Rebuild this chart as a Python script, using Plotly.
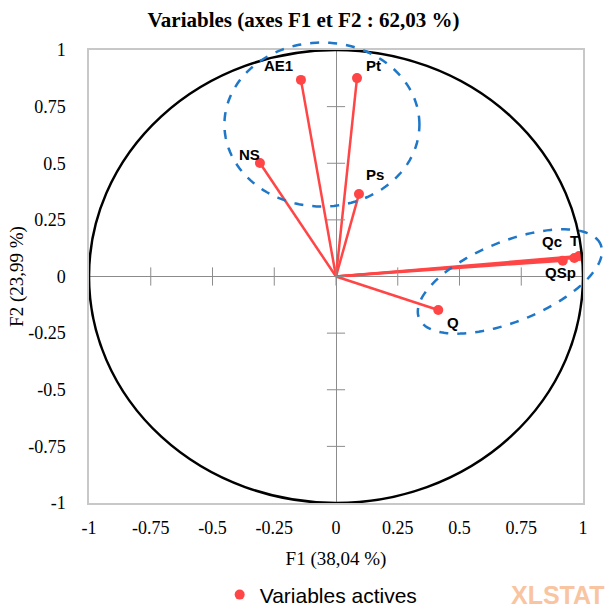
import numpy as np
import plotly.graph_objects as go

# ---- data ----
variables = ["AE1", "Pt", "NS", "Ps", "Qc", "T", "QSp", "Q"]
f1 = [-0.142, 0.085, -0.308, 0.093, 0.965, 0.984, 0.918, 0.414]
f2 = [0.868, 0.876, 0.501, 0.364, 0.082, 0.090, 0.070, -0.148]
tick_vals = [-1, -0.75, -0.5, -0.25, 0, 0.25, 0.5, 0.75, 1]
tick_text = ["-1", "-0.75", "-0.5", "-0.25", "0", "0.25", "0.5", "0.75", "1"]

# ---- styling ----
RED = "#FF4545"
BLUE = "#1F77C8"
GRAY = "#8C8C8C"
label_offsets = {  # (xshift, yshift) in px
    "AE1": (-22, 14), "Pt": (16, 13), "NS": (-10, 9), "Ps": (16, 20),
    "Qc": (-22, 16), "T": (-5, 16), "QSp": (-2, -12), "Q": (15, -12),
}

fig = go.Figure()

# vectors from origin
lx, ly = [], []
for x, y in zip(f1, f2):
    lx += [0, x, None]
    ly += [0, y, None]
fig.add_trace(go.Scatter(x=lx, y=ly, mode="lines", line=dict(color=RED, width=2.5),
                         showlegend=False, hoverinfo="skip"))

# tick marks on the zero axes
fig.add_trace(go.Scatter(x=[0] * len(tick_vals), y=tick_vals, mode="markers",
                         marker=dict(symbol="line-ew", size=13, line=dict(color=GRAY, width=1)),
                         showlegend=False, hoverinfo="skip", cliponaxis=False))
fig.add_trace(go.Scatter(x=tick_vals, y=[0] * len(tick_vals), mode="markers",
                         marker=dict(symbol="line-ns", size=13, line=dict(color=GRAY, width=1)),
                         showlegend=False, hoverinfo="skip", cliponaxis=False))

fig.add_trace(go.Scatter(x=f1, y=f2, mode="markers", name="Variables actives",
                         marker=dict(color=RED, size=10), text=variables, cliponaxis=False))

# unit circle
fig.add_shape(type="circle", xref="x", yref="y", x0=-1, y0=-1, x1=1, y1=1,
              line=dict(color="black", width=2.5), layer="above")


def to_paper(x, y):
    # axes span [-1, 1] on both x and y
    return (np.asarray(x) + 1) / 2, (np.asarray(y) + 1) / 2


def ellipse_path(cx, cy, a_px, b_px, theta_deg):
    px_per_x, px_per_y = 247.0, 226.5
    th = np.deg2rad(theta_deg)
    t = np.linspace(0, 2 * np.pi, 140)
    ex = cx + (a_px * np.cos(t) * np.cos(th) - b_px * np.sin(t) * np.sin(th)) / px_per_x
    ey = cy + (a_px * np.cos(t) * np.sin(th) + b_px * np.sin(t) * np.cos(th)) / px_per_y
    ux, uy = to_paper(ex, ey)
    return "M " + " L ".join(f"{a:.5f},{b:.5f}" for a, b in zip(ux, uy)) + " Z"


# ellipse 1 (group AE1, Pt, NS, Ps) and ellipse 2 (group Qc, T, QSp, Q)
for params in [(-0.057, 0.671, 97.5, 82.0, 0.0), (0.704, -0.022, 98.0, 40.0, 22.0)]:
    fig.add_shape(type="path", xref="paper", yref="paper", path=ellipse_path(*params),
                  line=dict(color=BLUE, width=2.5, dash="dash"), layer="above")

for name, x, y in zip(variables, f1, f2):
    dx, dy = label_offsets[name]
    fig.add_annotation(x=x, y=y, text=f"<b>{name}</b>", showarrow=False,
                       xshift=dx, yshift=dy,
                       font=dict(family="Liberation Sans", size=15, color="black"))

fig.add_annotation(xref="paper", yref="paper", x=1, y=-0.203, xshift=24,
                   xanchor="right", yanchor="middle", showarrow=False,
                   text="<b>XLSTAT</b>",
                   font=dict(family="Liberation Sans", size=25, color="#F9C4A0"))

axis_common = dict(range=[-1, 1], tickvals=tick_vals, ticktext=tick_text,
                   showgrid=False, zeroline=True, zerolinecolor=GRAY, zerolinewidth=1,
                   showline=True, mirror=True, linecolor="#C8C8C8", linewidth=1.5,
                   ticks="", tickfont=dict(family="Liberation Serif", size=18, color="black"),
                   title_font=dict(family="Liberation Serif", size=19, color="black"))

fig.update_layout(
    width=607, height=608,
    margin=dict(l=89, r=24, t=50, b=105, autoexpand=False),
    paper_bgcolor="white", plot_bgcolor="white",
    title=dict(text="<b>Variables (axes F1 et F2 : 62,03 %)</b>", x=0.5, xanchor="center",
               y=0.967, yanchor="middle",
               font=dict(family="Liberation Serif", size=21, color="black")),
    xaxis=dict(axis_common, title=dict(text="F1 (38,04 %)", standoff=14), ticklabelstandoff=8),
    yaxis=dict(axis_common, title=dict(text="F2 (23,99 %)", standoff=0), ticklabelstandoff=18),
    showlegend=True,
    legend=dict(orientation="h", x=0.47, xanchor="center", y=-0.203, yanchor="middle",
                font=dict(family="Liberation Sans", size=21, color="black"),
                itemwidth=30),
)

fig.write_html("out.html")
